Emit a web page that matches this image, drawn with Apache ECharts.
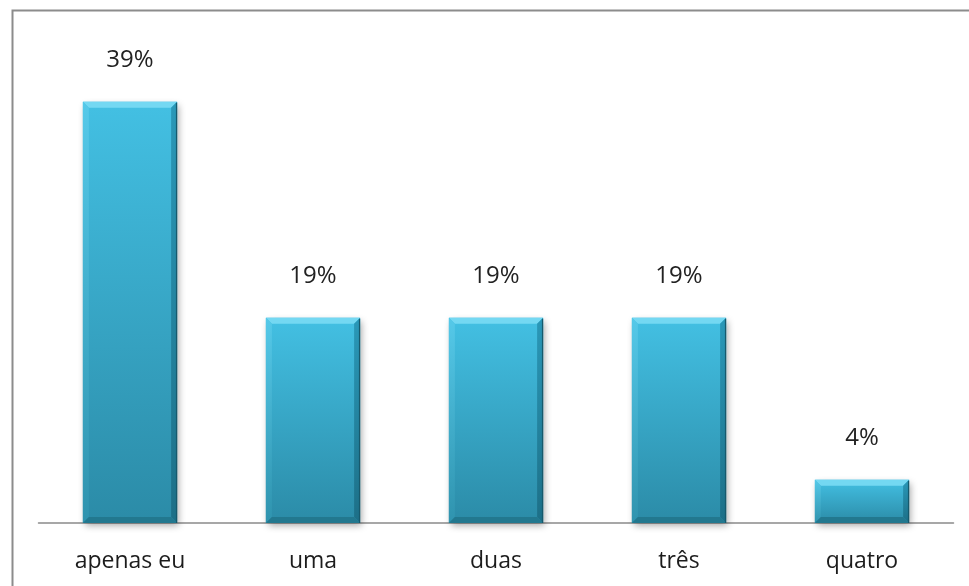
<!DOCTYPE html>
<html>
<head>
<meta charset="utf-8">
<script src="https://cdn.jsdelivr.net/npm/echarts@6/dist/echarts.min.js"></script>
<style>
  html, body { margin: 0; padding: 0; background: #fff; }
  #chart { width: 969px; height: 586px; }
</style>
</head>
<body>
<div id="chart"></div>
<script>
// Share of respondents by number of people who helped
const categories = ['apenas eu', 'uma', 'duas', 'três', 'quatro'];
const percentages = [39, 19, 19, 19, 4];

const chart = echarts.init(document.getElementById('chart'));

const BEVEL = 6;

function lin(c0, c1) {
  return new echarts.graphic.LinearGradient(0, 0, 0, 1, [
    { offset: 0, color: c0 },
    { offset: 1, color: c1 }
  ]);
}

// Bevelled column: face + four sloped edges, positioned by the axes
function renderBar(params, api) {
  const idx = api.value(0);
  const val = api.value(1);
  const top = api.coord([idx, val]);
  const base = api.coord([idx, 0]);
  const w = api.size([1, 0])[0] * 0.515;
  const x0 = top[0] - w / 2, x1 = top[0] + w / 2;
  const y0 = top[1], y1 = base[1];
  const b = Math.min(BEVEL, (y1 - y0) / 3);

  return {
    type: 'group',
    children: [
      {
        type: 'rect',
        shape: { x: x0, y: y0, width: w, height: y1 - y0 },
        style: {
          fill: lin('#43c0e3', '#2b8ba7'),
          shadowBlur: 7, shadowOffsetX: 2, shadowOffsetY: 3,
          shadowColor: 'rgba(0,0,0,0.35)'
        }
      },
      { // top edge
        type: 'polygon',
        shape: { points: [[x0, y0], [x1, y0], [x1 - b, y0 + b], [x0 + b, y0 + b]] },
        style: { fill: '#74d8f2' }
      },
      { // left edge
        type: 'polygon',
        shape: { points: [[x0, y0], [x0 + b, y0 + b], [x0 + b, y1 - b], [x0, y1]] },
        style: { fill: lin('#55c9e9', '#2f93ae') }
      },
      { // right edge
        type: 'polygon',
        shape: { points: [[x1, y0], [x1, y1], [x1 - b, y1 - b], [x1 - b, y0 + b]] },
        style: { fill: lin('#2a98b8', '#1d6f87') }
      },
      { // bottom edge
        type: 'polygon',
        shape: { points: [[x0, y1], [x1, y1], [x1 - b, y1 - b], [x0 + b, y1 - b]] },
        style: { fill: '#22788f' }
      },
      {
        type: 'rect',
        shape: { x: x1 - 1.2, y: y0 + 1, width: 1.2, height: y1 - y0 - 1 },
        style: { fill: '#17596c' }
      },
      { // value label
        type: 'text',
        x: top[0], y: y0 - 30,
        style: {
          text: val + '%',
          fontFamily: '"Open Sans", sans-serif',
          fontSize: 24,
          fill: '#222',
          align: 'center',
          verticalAlign: 'bottom'
        }
      }
    ]
  };
}

chart.setOption({
  animation: false,
  backgroundColor: '#ffffff',
  grid: { left: 38.5, right: 15.5, top: 91, bottom: 63 },
  xAxis: {
    type: 'category',
    data: categories,
    axisLine: { lineStyle: { color: '#8a8a8a', width: 1.5 } },
    axisTick: { show: false },
    axisLabel: {
      margin: 27,
      fontFamily: '"Open Sans", sans-serif',
      fontSize: 23,
      color: '#1c1c1c'
    }
  },
  yAxis: {
    type: 'value',
    min: 0,
    max: 40,
    show: false,
    splitLine: { show: false }
  },
  graphic: [
    { // chart area frame
      type: 'rect',
      left: 10, top: 8,
      shape: { width: 1000, height: 640 },
      style: { fill: null, stroke: '#8c8c8c', lineWidth: 2 },
      z: 10
    }
  ],
  series: [{
    type: 'custom',
    renderItem: renderBar,
    data: percentages.map((v, i) => [i, v]),
    encode: { x: 0, y: 1 },
    clip: false
  }]
});
</script>
</body>
</html>
